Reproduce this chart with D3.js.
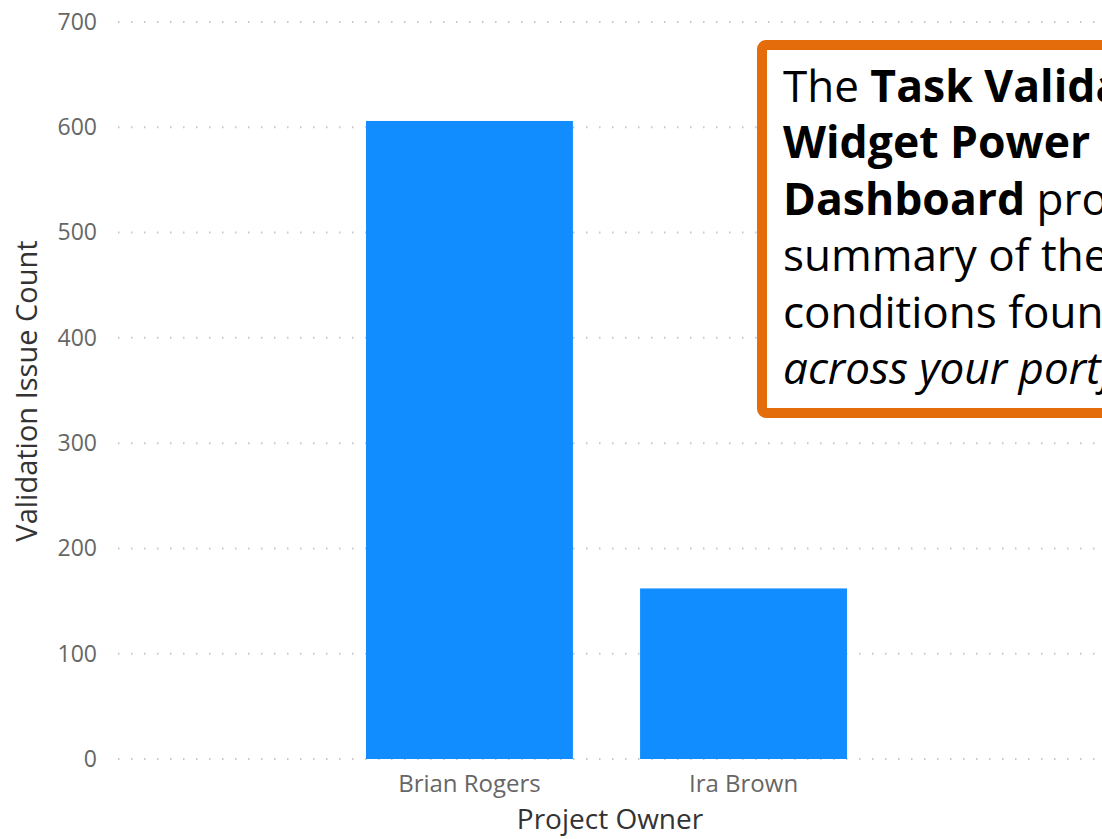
<!DOCTYPE html>
<html>
<head>
<meta charset="utf-8">
<script src="https://cdn.jsdelivr.net/npm/d3@7"></script>
<style>
  html, body { margin: 0; padding: 0; background: #fff; overflow: hidden; }
  svg { display: block; }
</style>
</head>
<body>
<svg id="chart" width="1102" height="839"></svg>
<script>
// ---- data ----
const categories = ["Brian Rogers", "Ira Brown"];
const values = [606, 162];
const yTicks = [0, 100, 200, 300, 400, 500, 600, 700];
const yTitle = "Validation Issue Count";
const xTitle = "Project Owner";
const noteLines = [
  [{t: "The ", w: "normal"}, {t: "Task Validation", w: "bold"}],
  [{t: "Widget Power BI", w: "bold"}],
  [{t: "Dashboard", w: "bold"}, {t: " provides a", w: "normal"}],
  [{t: "summary of the issues", w: "normal"}],
  [{t: "conditions found", w: "normal"}],
  [{t: "across your portfolio.", w: "normal", i: true}]
];

const svg = d3.select("#chart");
const font = "'Open Sans', 'Noto Sans', sans-serif";

const x = d3.scaleBand().domain(categories).range([118, 1095])
  .paddingInner(0.245).paddingOuter(0.905).align(0.5);
const y = d3.scaleLinear().domain([0, 700]).range([759, 22]);

// gridlines
const grid = svg.append("g");
grid.selectAll("line").data(yTicks).join("line")
  .attr("x1", 118).attr("x2", 1102)
  .attr("y1", d => y(d)).attr("y2", d => y(d))
  .attr("stroke", "#c8c8c8").attr("stroke-width", 2)
  .attr("stroke-dasharray", "1.5 11.5");

// y axis labels
const yAxis = svg.append("g").attr("transform", "translate(97,0)")
  .call(d3.axisLeft(y).tickValues(yTicks).tickSize(0).tickPadding(0));
yAxis.select(".domain").remove();
yAxis.selectAll("text").attr("font-family", font).attr("font-size", 23)
  .attr("fill", "#666");

// bars
svg.append("g").selectAll("rect").data(values).join("rect")
  .attr("x", (d, i) => x(categories[i]))
  .attr("width", x.bandwidth())
  .attr("y", d => y(d))
  .attr("height", d => y(0) - y(d))
  .attr("fill", "#118DFF");

// x axis
const xAxis = svg.append("g").attr("transform", "translate(0,792)")
  .call(d3.axisBottom(x).tickSize(0).tickPadding(0));
xAxis.select(".domain").remove();
xAxis.selectAll("text").attr("font-family", font).attr("font-size", 24)
  .attr("fill", "#666").attr("dy", 0);

// titles
svg.append("text").attr("x", 610).attr("y", 829).attr("text-anchor", "middle")
  .attr("font-family", font).attr("font-size", 28).attr("fill", "#333").text(xTitle);
svg.append("text").attr("transform", "translate(37,391) rotate(-90)")
  .attr("text-anchor", "middle").attr("font-family", font).attr("font-size", 29)
  .attr("fill", "#333").text(yTitle);

// note box
svg.append("rect").attr("x", 762).attr("y", 45).attr("width", 420).attr("height", 368)
  .attr("rx", 4).attr("fill", "#fff").attr("stroke", "#E46C0A").attr("stroke-width", 10);
const note = svg.append("text").attr("font-family", font).attr("fill", "#000");
noteLines.forEach((line, li) => {
  const tl = note.append("tspan").attr("x", 783).attr("y", 102 + li * 56.4);
  line.forEach((seg, si) => {
    const s = si === 0 ? tl : note.append("tspan");
    s.text(seg.t).attr("font-weight", seg.w)
      .attr("font-size", seg.w === "bold" ? 44.5 : 44)
      .attr("font-style", seg.i ? "italic" : "normal");
  });
});
</script>
</body>
</html>
